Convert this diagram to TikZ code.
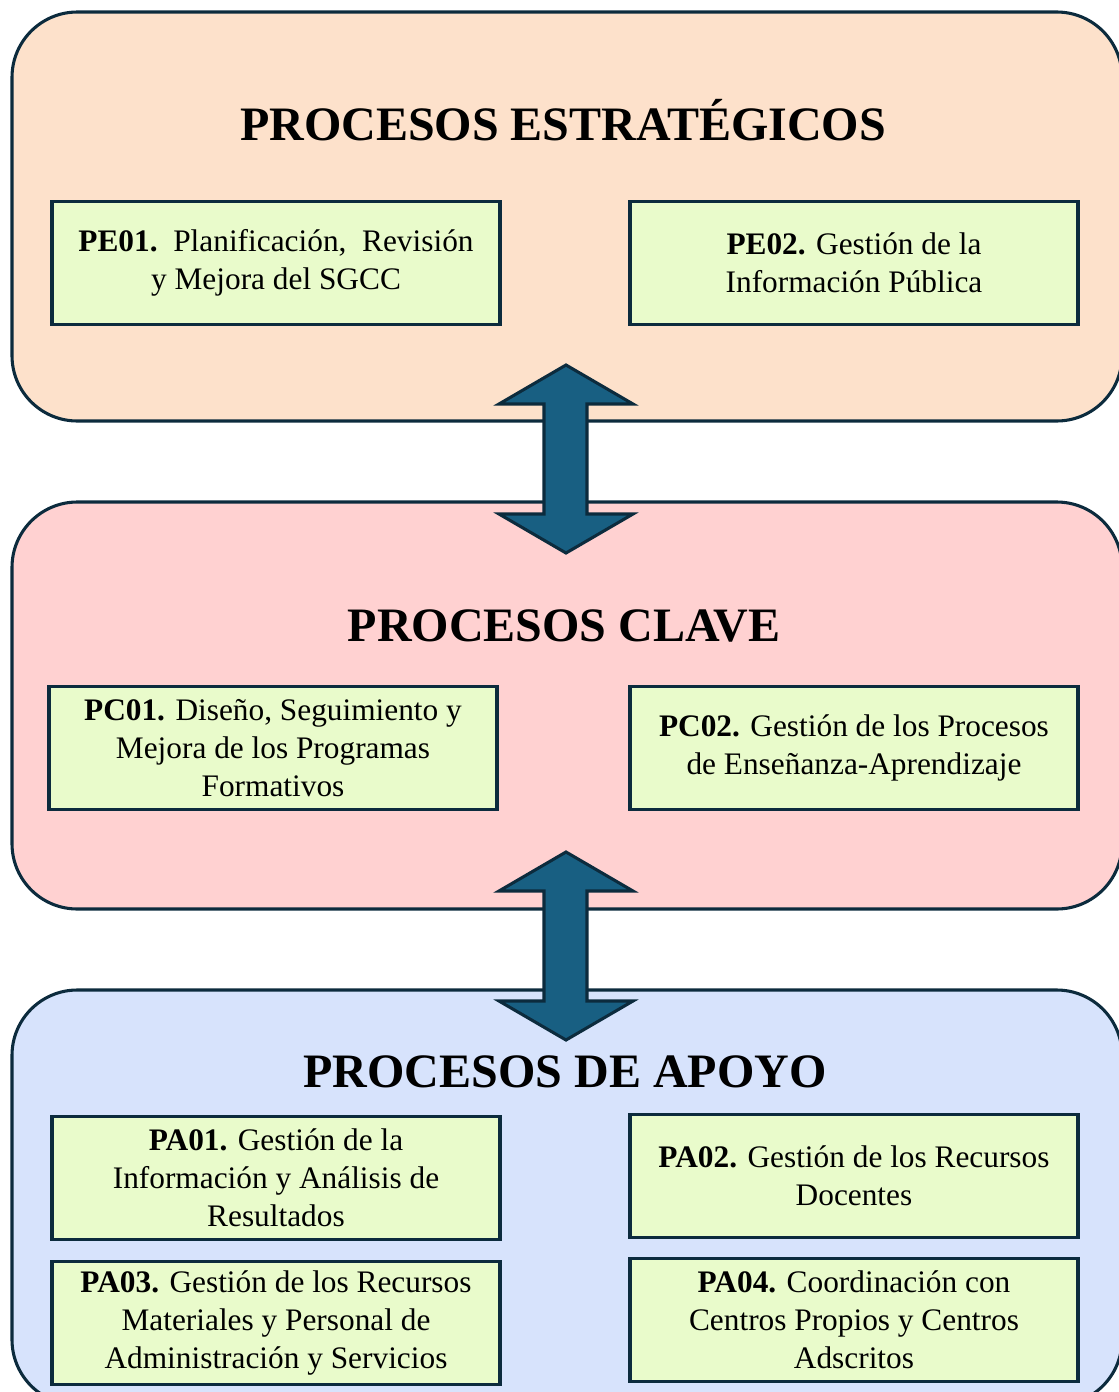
\documentclass[tikz,border=0pt]{standalone}
\usepackage{fontspec}
\setmainfont{Liberation Serif}
\definecolor{edgeblue}{HTML}{0C2B3D}
\definecolor{peach}{HTML}{FDE1CB}
\definecolor{rose}{HTML}{FFD1D1}
\definecolor{sky}{HTML}{D7E3FC}
\definecolor{leaf}{HTML}{E9FBCB}
\definecolor{arrowblue}{HTML}{185F82}
\tikzset{
  panel/.style={draw=edgeblue, line width=2.3pt, rounded corners=49pt},
  procbox/.style={draw=edgeblue, line width=2.6pt, fill=leaf, minimum width=336pt,
    minimum height=92pt, align=center, inner sep=0pt, font=\fontsize{23.5}{28.5}\selectfont},
  paneltitle/.style={anchor=base, font=\bfseries\fontsize{36}{40}\selectfont},
  bigarrow/.style={draw=edgeblue, line width=2.3pt, fill=arrowblue, line join=miter}
}
\begin{document}
\begin{tikzpicture}[x=0.75pt,y=-0.75pt]
  \useasboundingbox (0,0) rectangle (1118,1392);
  % three panels
  \draw [panel, fill=peach] (12,12) rectangle (1122,421);
  \draw [panel, fill=rose] (12,502) rectangle (1122,909);
  \draw [panel, fill=sky] (12,990) rectangle (1122,1405);
  \node [paneltitle] (titlePE) at (563,140) {PROCESOS ESTRATÉGICOS};
  \node [paneltitle] (titlePC) at (564,641) {PROCESOS CLAVE};
  \node [paneltitle] (titlePA) at (565,1087) {PROCESOS DE APOYO};
  % strategic
  \node [procbox] (PE01) at (276,263) {\textbf{PE01.}\ \ Planificación,\ \ Revisión\\y Mejora del SGCC};
  \node [procbox] (PE02) at (854,263) {\textbf{PE02.} Gestión de la\\Información Pública};
  % key
  \node [procbox] (PC01) at (273,748) {\textbf{PC01.} Diseño, Seguimiento y\\Mejora de los Programas\\Formativos};
  \node [procbox] (PC02) at (854,748) {\textbf{PC02.} Gestión de los Procesos\\de Enseñanza-Aprendizaje};
  % support
  \node [procbox] (PA01) at (276,1178) {\textbf{PA01.} Gestión de la\\Información y Análisis de\\Resultados};
  \node [procbox] (PA02) at (854,1176) {\textbf{PA02.} Gestión de los Recursos\\Docentes};
  \node [procbox] (PA03) at (276,1323) {\textbf{PA03.} Gestión de los Recursos\\Materiales y Personal de\\Administración y Servicios};
  \node [procbox] (PA04) at (854,1320) {\textbf{PA04.} Coordinación con\\Centros Propios y Centros\\Adscritos};
  % double arrows between panels
  \draw [bigarrow] (566,365) -- (633,404) -- (587,404) -- (587,514) -- (633,514) -- (566,553)
    -- (499,514) -- (544,514) -- (544,404) -- (499,404) -- cycle;
  \draw [bigarrow] (566,852) -- (633,891) -- (587,891) -- (587,1001) -- (633,1001) -- (566,1040)
    -- (499,1001) -- (544,1001) -- (544,891) -- (499,891) -- cycle;
\end{tikzpicture}
\end{document}
